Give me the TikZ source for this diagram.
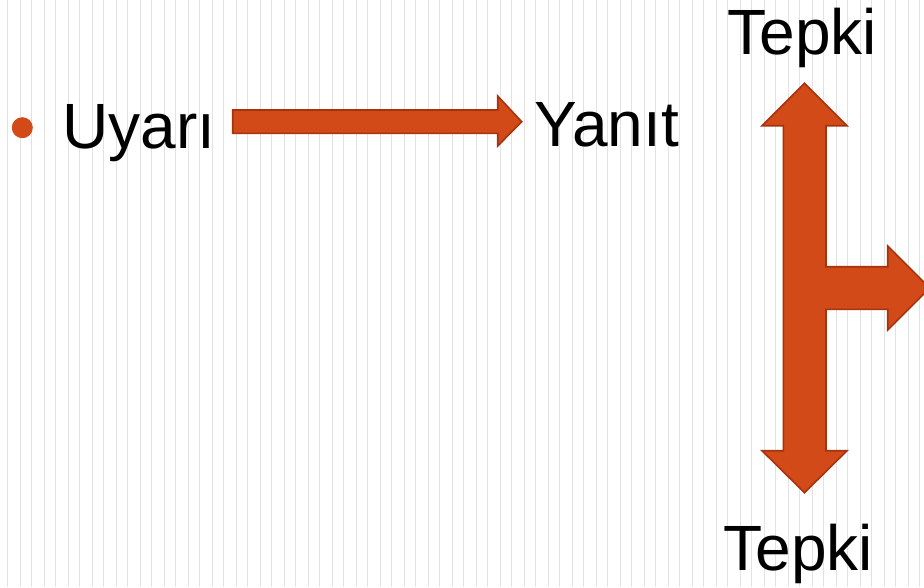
\documentclass[tikz,border=0pt]{standalone}
\usepackage{fontspec}
\setmainfont{Liberation Sans}
\definecolor{arrowfill}{RGB}{210,74,24}
\definecolor{arrowline}{RGB}{165,52,14}
\definecolor{stripe}{RGB}{226,226,226}
\tikzset{
  bigtext/.style={anchor=base west, inner sep=0pt, font=\fontsize{64}{70}\selectfont},
  blockarrow/.style={fill=arrowfill, draw=arrowline, line width=1.6pt, line join=miter},
  stripeA/.style={draw=stripe, line width=1.8pt},
  stripeB/.style={draw=stripe, line width=1.1pt}
}
\begin{document}
\begin{tikzpicture}[x=1pt,y=-1pt]
\useasboundingbox (0,0) rectangle (924,587);
\fill[white] (0,0) rectangle (924,587);
% background stripes
\foreach \k in {0,...,38}{
  \draw[stripeA] ({7.5+24*\k},0) -- ({7.5+24*\k},587);
  \draw[stripeB] ({20.5+24*\k},0) -- ({20.5+24*\k},587);
}
% bullet
\fill[arrowfill] (22.3,127.7) circle (10.5);
% texts
\node[bigtext] (uyari) at (62.5,148) {Uyarı};
\node[bigtext] (yanit) at (534,146.5) {Yanıt};
\node[bigtext] (tepkitop) at (727.5,54.5) {Tepki};
\node[bigtext] (tepkibot) at (723.5,570) {Tepki};
% horizontal arrow
\draw[blockarrow] (232.7,110) -- (497.7,110) -- (497.7,96) -- (521.7,121.7)
  -- (497.7,146) -- (497.7,133.3) -- (232.7,133.3) -- cycle;
% branching arrow
\draw[blockarrow] (804.5,83.3) -- (847,125.7) -- (826,125.7) -- (826,266.7)
  -- (887.7,266.7) -- (887.7,246) -- (929.7,288) -- (887.7,330) -- (887.7,309.3)
  -- (826,309.3) -- (826,450.7) -- (847,450.7) -- (804.5,492.7) -- (762,450.7)
  -- (783.3,450.7) -- (783.3,125.7) -- (762,125.7) -- cycle;
\end{tikzpicture}
\end{document}
